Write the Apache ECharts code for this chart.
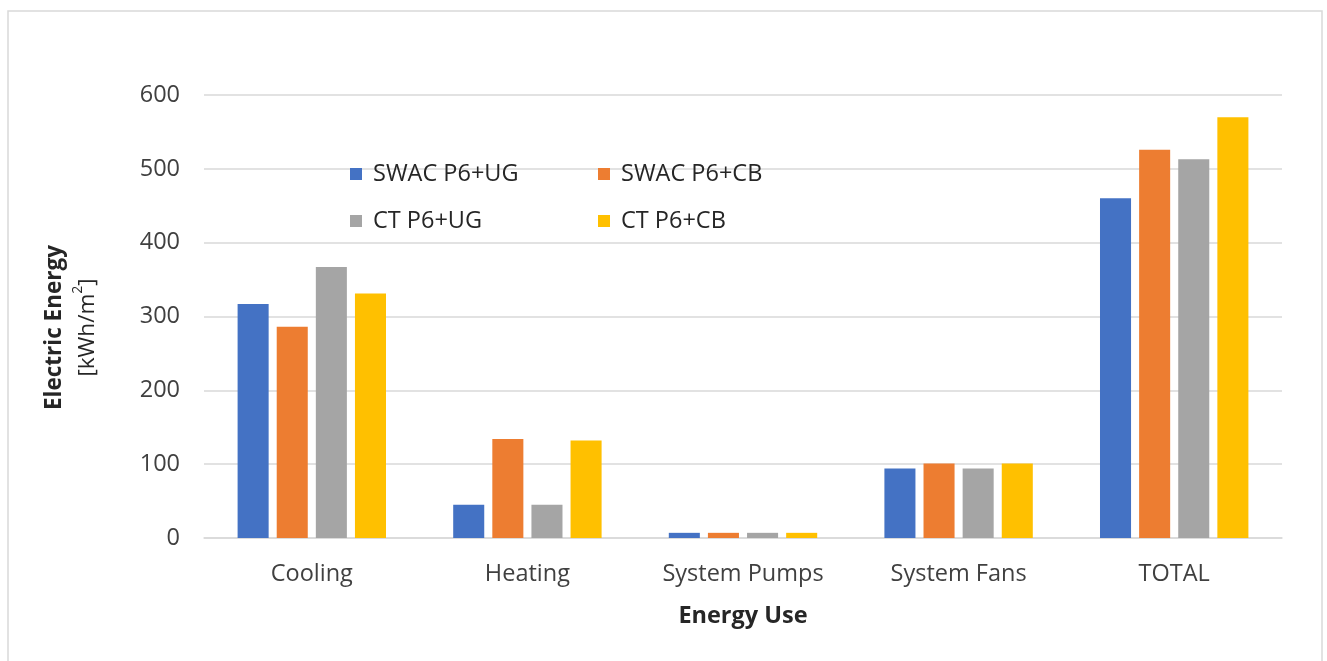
<!DOCTYPE html>
<html>
<head>
<meta charset="utf-8">
<title>Electric Energy by Energy Use</title>
<script src="https://cdn.jsdelivr.net/npm/echarts@6/dist/echarts.min.js"></script>
<style>
  html, body { margin: 0; padding: 0; background: #ffffff; }
  #chart { width: 1327px; height: 661px; }
</style>
</head>
<body>
<div id="chart"></div>
<script>
// Energy use categories
const categories = ['Cooling', 'Heating', 'System Pumps', 'System Fans', 'TOTAL'];

// Electric energy per configuration [kWh/m²]
const swacUG = [317, 45, 7, 94, 460];
const swacCB = [286, 134, 7, 101, 526];
const ctUG   = [367, 45, 7, 94, 513];
const ctCB   = [331, 132, 7, 101, 570];

const seriesNames = ['SWAC P6+UG', 'SWAC P6+CB', 'CT P6+UG', 'CT P6+CB'];
const seriesColors = ['#4472C4', '#ED7D31', '#A5A5A5', '#FFC000'];

// Value axis ticks
const yMin = 0, yMax = 600, yStep = 100;

const font = 'Open Sans';
const fs = 23.5;
const gridColor = '#d9d9d9';

const chart = echarts.init(document.getElementById('chart'), null, { renderer: 'canvas' });

const values = [swacUG, swacCB, ctUG, ctCB];

const legendCommon = {
  orient: 'vertical',
  icon: 'rect',
  itemWidth: 12,
  itemHeight: 12,
  itemGap: 21,
  textStyle: { fontFamily: font, fontSize: fs, color: '#262626', lineHeight: 26, padding: [0, 0, 0, 6] }
};

chart.setOption({
  animation: false,
  backgroundColor: '#ffffff',
  textStyle: { fontFamily: font },
  graphic: [{
    type: 'rect',
    shape: { x: 8, y: 11, width: 1314, height: 660 },
    style: { fill: 'none', stroke: gridColor, lineWidth: 1.5 },
    silent: true
  }],
  legend: [
    Object.assign({ left: 345, top: 156, data: [seriesNames[0], seriesNames[2]] }, legendCommon),
    Object.assign({ left: 593, top: 156, data: [seriesNames[1], seriesNames[3]] }, legendCommon)
  ],
  grid: { left: 204, right: 45, top: 95, bottom: 123, containLabel: false },
  xAxis: {
    type: 'category',
    data: categories,
    name: 'Energy Use',
    nameLocation: 'middle',
    nameGap: 66,
    nameTextStyle: { fontFamily: font, fontSize: fs, fontWeight: 'bold', color: '#262626' },
    axisLine: { lineStyle: { color: gridColor, width: 1.5 } },
    axisTick: { show: false },
    axisLabel: { fontFamily: font, fontSize: fs, color: '#404040', margin: 24 }
  },
  yAxis: {
    type: 'value',
    min: yMin,
    max: yMax,
    interval: yStep,
    name: '{b|Electric Energy}\n{n|[kWh/m}{s|2}{n|]}',
    nameLocation: 'middle',
    nameRotate: 90,
    nameGap: 100,
    nameTextStyle: {
      padding: [0, 22, 0, 0],
      rich: {
        b: { fontFamily: font, fontSize: 22.5, fontWeight: 'bold', color: '#262626', lineHeight: 33 },
        n: { fontFamily: font, fontSize: 22.5, color: '#262626', lineHeight: 33 },
        s: { fontFamily: font, fontSize: 14, color: '#262626', verticalAlign: 'top', lineHeight: 33, padding: [0, 0, 10, 0] }
      }
    },
    axisLine: { show: false },
    axisTick: { show: false },
    axisLabel: { fontFamily: font, fontSize: fs, color: '#404040', margin: 24 },
    splitLine: { lineStyle: { color: gridColor, width: 1.5 } }
  },
  series: values.map((v, i) => ({
    name: seriesNames[i],
    type: 'bar',
    data: v,
    barWidth: '14.4%',
    barGap: '26%',
    itemStyle: { color: seriesColors[i] }
  }))
});
</script>
</body>
</html>
